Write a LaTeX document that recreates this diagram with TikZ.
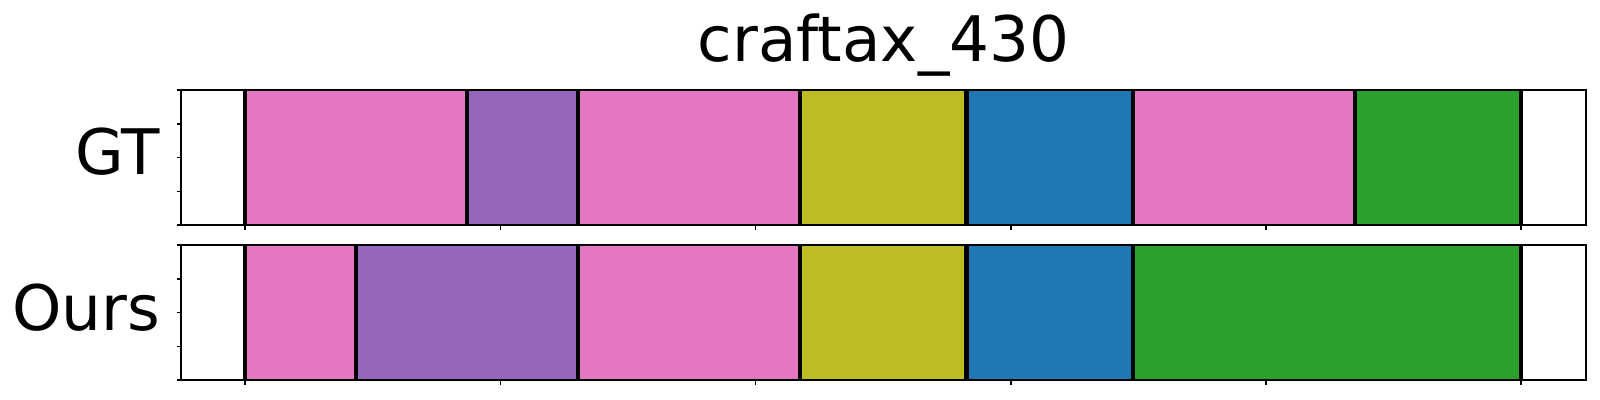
\documentclass[tikz,border=0pt]{standalone}
\usepackage{fontspec}
\setmainfont{DejaVu Sans}
\definecolor{tpink}{HTML}{E377C2}
\definecolor{tpurple}{HTML}{9467BD}
\definecolor{tolive}{HTML}{BCBD22}
\definecolor{tblue}{HTML}{1F77B4}
\definecolor{tgreen}{HTML}{2CA02C}
\begin{document}
\begin{tikzpicture}[x=0.5pt,y=-0.5pt,
  frame/.style={draw=black,line width=0.9pt},
  tickline/.style={draw=black,line width=0.8pt},
  sep/.style={draw=black,line width=2.2pt},
  lbl/.style={inner sep=0pt,font=\fontsize{31.4}{38}\selectfont},
]
\useasboundingbox (0,0) rectangle (1600,400);
% unit mapping: x(k)=245.2+55.48k
\def\ux{55.48}
\def\xo{245.2}
% title
\node[lbl,anchor=base] (title) at (883.5,61.7) {craftax\_430};
% row labels
\node[lbl,anchor=base east] (gt) at (160.5,175) {GT};
\node[lbl,anchor=base east] (ours) at (160.5,330.7) {Ours};
% GT segments
\foreach \a/\b/\c in {0/4/tpink,4/6/tpurple,6/10/tpink,10/13/tolive,13/16/tblue,16/20/tpink,20/23/tgreen}{
  \fill[\c] ({\xo+\ux*\a},90.3) rectangle ({\xo+\ux*\b},225);
}
\foreach \k in {0,4,6,10,13,16,20,23}{
  \draw[sep] ({\xo+\ux*\k},90.3) -- ({\xo+\ux*\k},225);
}
% Ours segments
\foreach \a/\b/\c in {0/2/tpink,2/6/tpurple,6/10/tpink,10/13/tolive,13/16/tblue,16/23/tgreen}{
  \fill[\c] ({\xo+\ux*\a},245.3) rectangle ({\xo+\ux*\b},380);
}
\foreach \k in {0,2,6,10,13,16,23}{
  \draw[sep] ({\xo+\ux*\k},245.3) -- ({\xo+\ux*\k},380);
}
% frames
\draw[frame] (181.3,90.3) rectangle (1585.7,225);
\draw[frame] (181.3,245.3) rectangle (1585.7,380);
% ticks
\foreach \t in {0,4.6,9.2,13.8,18.4,23}{
  \draw[tickline] ({\xo+\ux*\t},225) -- ++(0,5);
  \draw[tickline] ({\xo+\ux*\t},380) -- ++(0,5);
}
\foreach \i in {0,...,4}{
  \draw[tickline] (181.3,{90.3+33.675*\i}) -- ++(-4.7,0);
  \draw[tickline] (181.3,{245.3+33.675*\i}) -- ++(-4.7,0);
}
\end{tikzpicture}
\end{document}
